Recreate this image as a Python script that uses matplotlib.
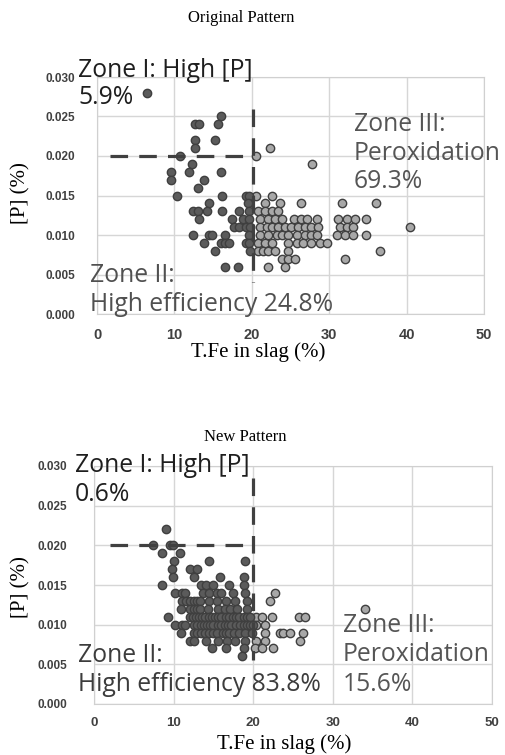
import numpy as np
import matplotlib
matplotlib.use("Agg")
import matplotlib.pyplot as plt

# Datos: (T.Fe %, [P] %)
orig_dark = [
    (6.5, .028), (12.7, .024), (13.2, .024), (16.0, .025), (15.6, .024), (12.7, .022), (15.3, .022),
    (12.7, .021), (10.7, .020), (12.3, .019), (9.6, .018), (11.9, .018), (16.0, .018), (9.6, .017),
    (13.8, .017), (13.1, .016), (10.3, .015), (16.2, .015), (19.2, .015), (19.7, .015), (14.5, .014),
    (19.5, .014), (12.4, .013), (13.0, .013), (14.2, .013), (16.2, .013), (18.3, .013), (19.6, .013),
    (13.2, .012), (17.5, .012), (18.8, .012), (19.7, .012), (17.7, .011), (18.4, .011), (19.2, .011),
    (19.8, .011), (12.4, .010), (14.5, .010), (14.9, .010), (16.6, .010), (19.6, .010), (13.8, .009),
    (16.0, .009), (16.6, .009), (17.0, .009), (19.2, .009), (19.7, .009), (15.3, .008), (19.8, .008),
    (16.6, .006), (18.2, .006),
]
orig_light = [
    (22.4, .021), (20.5, .020), (27.8, .019), (20.6, .015), (22.6, .015),
    (21.7, .014), (23.6, .014), (26.4, .014), (31.7, .014), (36.1, .014),
    (20.8, .013), (21.7, .013), (22.6, .013), (23.4, .013),
    (21.1, .012), (22.1, .012), (23.0, .012), (23.9, .012), (25.4, .012), (26.4, .012), (27.1, .012),
    (28.4, .012), (31.2, .012), (32.3, .012), (33.3, .012), (34.8, .012),
    (21.1, .011), (21.9, .011), (22.6, .011), (23.4, .011), (24.3, .011), (25.1, .011), (26.0, .011),
    (26.9, .011), (27.6, .011), (28.6, .011), (31.4, .011), (32.3, .011), (33.1, .011), (40.4, .011),
    (21.1, .010), (22.1, .010), (23.2, .010), (23.9, .010), (24.7, .010), (25.8, .010), (26.9, .010),
    (27.7, .010), (28.4, .010), (31.0, .010), (32.0, .010), (33.1, .010), (34.8, .010),
    (20.8, .009), (21.7, .009), (22.6, .009), (24.7, .009), (25.8, .009), (26.6, .009), (27.7, .009),
    (28.8, .009), (29.7, .009),
    (20.8, .008), (21.5, .008), (22.1, .008), (23.0, .008), (24.7, .008), (36.5, .008),
    (23.9, .007), (24.7, .007), (25.6, .007), (32.0, .007), (22.1, .006), (24.3, .006),
]
new_dark = [
    (9.1, .022), (7.4, .020), (9.6, .020), (9.9, .020), (8.6, .019), (10.8, .019),
    (10.0, .018), (14.4, .018), (19.0, .018), (9.8, .017), (12.0, .017), (13.0, .017),
    (9.9, .016), (12.5, .016), (15.8, .016), (18.9, .016),
    (8.6, .015), (13.4, .015), (14.1, .015), (15.0, .015), (17.0, .015), (18.8, .015),
    (10.2, .014), (11.0, .014), (11.4, .014), (13.7, .014), (14.4, .014), (15.4, .014), (16.0, .014),
    (17.5, .014), (19.0, .014),
    (11.1, .013), (11.6, .013), (12.0, .013), (12.5, .013), (12.9, .013), (13.3, .013), (14.5, .013),
    (15.4, .013), (16.6, .013), (17.7, .013), (19.2, .013),
    (10.9, .012), (12.1, .012), (12.5, .012), (12.9, .012), (13.3, .012), (14.3, .012), (15.6, .012),
    (16.4, .012), (17.1, .012), (18.0, .012), (19.2, .012),
    (9.3, .011), (12.0, .011), (12.4, .011), (12.8, .011), (13.2, .011), (13.6, .011), (14.0, .011),
    (14.4, .011), (14.8, .011), (15.2, .011), (15.6, .011), (16.0, .011), (16.6, .011), (17.0, .011),
    (17.4, .011), (17.8, .011), (18.2, .011), (18.8, .011), (19.2, .011), (19.6, .011),
    (10.2, .010), (11.0, .010), (11.4, .010), (12.6, .010), (13.0, .010), (13.4, .010), (13.8, .010),
    (14.2, .010), (14.6, .010), (15.0, .010), (15.6, .010), (16.0, .010), (16.4, .010), (16.8, .010),
    (17.2, .010), (17.8, .010), (18.4, .010), (18.8, .010), (19.2, .010), (19.6, .010), (20.0, .010),
    (10.9, .009), (12.6, .009), (13.0, .009), (13.4, .009), (14.0, .009), (14.4, .009), (15.0, .009),
    (15.4, .009), (16.2, .009), (16.6, .009), (17.0, .009), (17.6, .009), (18.2, .009), (19.0, .009),
    (19.8, .009),
    (12.0, .008), (12.5, .008), (14.1, .008), (15.6, .008), (16.7, .008), (17.7, .008), (19.0, .008),
    (14.8, .007), (16.6, .007), (18.9, .007), (18.6, .006),
]
new_light = [
    (22.8, .014), (22.1, .013), (34.1, .012),
    (20.4, .011), (21.1, .011), (22.3, .011), (25.7, .011), (26.5, .011),
    (20.4, .010), (21.5, .010),
    (21.5, .009), (23.4, .009), (23.8, .009), (24.6, .009), (26.3, .009),
    (20.4, .008), (21.5, .008), (25.9, .008),
    (20.2, .007), (21.1, .007), (22.5, .007),
]

# Líneas de zona (x, y)
orig_hline = ([1.7, 20.0], [0.020, 0.020])
orig_vline = ([20.2, 20.2], [0.026, 0.004])
new_hline = ([2.0, 20.0], [0.020, 0.020])
new_vline = ([20.0, 20.0], [0.0285, 0.0055])

xticks = [0, 10, 20, 30, 40, 50]
yticks = [0.000, 0.005, 0.010, 0.015, 0.020, 0.025, 0.030]

W, H = 505, 755
fig = plt.figure(figsize=(W / 100, H / 100), dpi=100)

serif = "Liberation Serif"
zfont = "Open Sans"
dark_face, light_face, edge = "#5b5b5b", "#a8a8a8", "#3f3f3f"


def panel(rect, dark, light, hline, vline, ypad, xpad, xsize):
    ax = fig.add_axes(rect)
    d = np.array(dark)
    l = np.array(light)
    ax.scatter(l[:, 0], l[:, 1], s=36, c=light_face, edgecolors=edge, linewidths=1.0, zorder=2)
    ax.scatter(d[:, 0], d[:, 1], s=36, c=dark_face, edgecolors=edge, linewidths=1.0, zorder=2)
    for xs, ys in (hline, vline):
        ax.plot(xs, ys, color="#404040", lw=2.3, ls=(0, (5.5, 3.5)), zorder=3)
    ax.set_xlim(0, 50)
    ax.set_ylim(0, 0.030)
    ax.set_xticks(xticks)
    ax.set_yticks(yticks)
    ax.set_yticklabels([f"{v:.3f}" for v in yticks])
    ax.grid(True, color="#d6d6d6", lw=1.0)
    ax.set_axisbelow(True)
    for s in ax.spines.values():
        s.set_color("#d0d0d0")
    ax.tick_params(length=0, labelcolor="#404040")
    ax.tick_params(axis="y", pad=ypad, labelsize=8.5)
    ax.tick_params(axis="x", pad=xpad, labelsize=xsize)
    for lab in ax.get_xticklabels() + ax.get_yticklabels():
        lab.set_fontfamily("Liberation Sans")
        lab.set_fontweight("bold")
    return ax


def px(x, y):
    return x / W, 1 - y / H


panel([97 / W, 1 - 314 / H, 387 / W, 237 / H], orig_dark, orig_light, orig_hline, orig_vline, 16, 10, 10.5)
panel([94 / W, 1 - 704 / H, 398 / W, 238 / H], new_dark, new_light, new_hline, new_vline, 19, 9, 9.5)

# Títulos y ejes
fig.text(*px(241, 18), "Original Pattern", family=serif, fontsize=12, ha="center", va="center")
fig.text(*px(245, 437), "New Pattern", family=serif, fontsize=12, ha="center", va="center")
fig.text(*px(258, 352), "T.Fe in slag (%)", family=serif, fontsize=15, ha="center", va="center")
fig.text(*px(284, 744), "T.Fe in slag (%)", family=serif, fontsize=15, ha="center", va="center")
fig.text(*px(21, 193), "[P] (%)", family=serif, fontsize=15, ha="center", va="center", rotation=90)
fig.text(*px(21, 587), "[P] (%)", family=serif, fontsize=15, ha="center", va="center", rotation=90)

# Etiquetas de zonas
zs = 17.8
labels = [
    (78, 77, "Zone I: High [P]", "#1e1e1e"),
    (78, 104, "5.9%", "#1e1e1e"),
    (354, 131, "Zone III:", "#555555"),
    (354, 160, "Peroxidation", "#555555"),
    (354, 188, "69.3%", "#555555"),
    (90, 282, "Zone II:", "#505050"),
    (90, 311, "High efficiency 24.8%", "#505050"),
    (75, 472, "Zone I: High [P]", "#1e1e1e"),
    (75, 501, "0.6%", "#1e1e1e"),
    (78, 662, "Zone II:", "#3c3c3c"),
    (78, 691, "High efficiency 83.8%", "#3c3c3c"),
    (343, 632, "Zone III:", "#555555"),
    (343, 661, "Peroxidation", "#555555"),
    (343, 691, "15.6%", "#555555"),
]
for x, y, t, c in labels:
    fig.text(*px(x, y), t, family=zfont, fontsize=zs, color=c, ha="left", va="baseline", zorder=5)

fig.savefig("out.png", dpi=100)
